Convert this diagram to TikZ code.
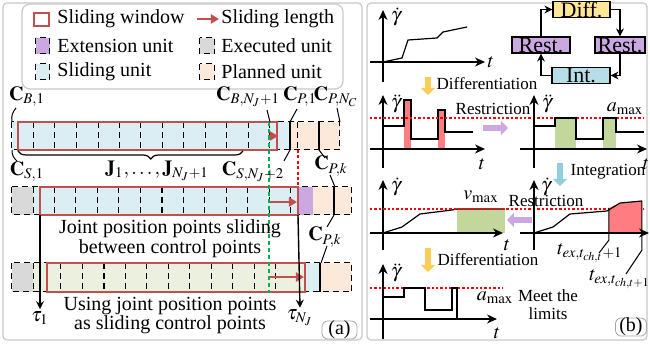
\documentclass[tikz,border=0pt]{standalone}
\usepackage{mathptmx}
\usepackage[no-math]{fontspec}
\setmainfont{Liberation Serif}
\usetikzlibrary{arrows.meta,decorations.pathreplacing}

\definecolor{winred}{RGB}{192,80,77}
\definecolor{extpurple}{RGB}{204,168,226}
\definecolor{execgray}{RGB}{217,217,217}
\definecolor{slideblue}{RGB}{218,238,243}
\definecolor{planpeach}{RGB}{253,233,217}
\definecolor{slidegreen}{RGB}{235,241,222}
\definecolor{okgreen}{RGB}{195,214,155}
\definecolor{overred}{RGB}{255,124,128}
\definecolor{diffyellow}{RGB}{255,230,153}
\definecolor{intblue}{RGB}{183,222,232}
\definecolor{arryellow}{RGB}{255,205,85}
\definecolor{arrblue}{RGB}{146,205,220}
\definecolor{markgreen}{RGB}{0,176,80}
\definecolor{framegray}{RGB}{200,200,200}

\begin{document}
\begin{tikzpicture}[x=0.5pt, y=-0.5pt, >={Stealth[length=4pt,width=4pt]},
    panel/.style={draw=framegray, line width=0.6pt, rounded corners=2pt},
    cellbar/.style={densely dashed, line width=0.5pt},
    window/.style={draw=winred, line width=1.3pt},
    slidearrow/.style={-{Triangle[length=4pt,width=4.5pt]}, winred, line width=1.3pt},
    axis/.style={-{Stealth[length=5pt,width=4.5pt]}, line width=0.6pt},
    trace/.style={line width=0.6pt},
    limit/.style={red, dash pattern=on 1.2pt off 1pt, line width=0.6pt},
    lbl/.style={font=\fontsize{10}{10}\selectfont, inner sep=1pt},
    note/.style={font=\fontsize{8.5}{9}\selectfont, inner sep=1pt},
    loopbox/.style={draw, line width=0.6pt, minimum height=8pt, inner sep=0pt, font=\fontsize{11}{11}\selectfont},
    bigarrow/.style={line width=3pt, -{Triangle[length=3.5pt,width=7pt]}},
    tag/.style={draw=gray!70, rounded corners=3pt, minimum width=17pt, minimum height=8pt, inner sep=0pt, font=\fontsize{10}{10}\selectfont},
    lead/.style={line width=0.5pt}]
  \useasboundingbox (0,0) rectangle (650,347);

  % Panel frames
  \draw[panel] (3,3) rectangle (362,340);
  \draw[panel] (367,3) rectangle (647,340);
  \draw[panel, rounded corners=4pt] (22,4) rectangle (343,89);

  % Legend
  \draw[window, fill=white] (34,13) rectangle (49,26);
  \node[lbl, anchor=west] (lgWin) at (55,19) {Sliding window};
  \draw[slidearrow] (197,19) -- (219,19);
  \node[lbl, anchor=west] (lgLen) at (219,19) {Sliding length};
  \draw[cellbar, fill=extpurple] (36,38) rectangle (50,54);
  \node[lbl, anchor=west] (lgExt) at (55,46) {Extension unit};
  \draw[cellbar, fill=execgray] (200,38) rectangle (215,54);
  \node[lbl, anchor=west] (lgExe) at (219,46) {Executed unit};
  \draw[cellbar, fill=slideblue] (36,64) rectangle (50,80);
  \node[lbl, anchor=west] (lgSld) at (55,72) {Sliding unit};
  \draw[cellbar, fill=planpeach] (200,64) rectangle (215,80);
  \node[lbl, anchor=west] (lgPln) at (219,72) {Planned unit};

  % Row 1: before sliding
  \fill[slideblue] (12,122) rectangle (290,150);
  \fill[planpeach] (290,122) rectangle (340,150);
  \draw[cellbar] (12,122) rectangle (340,150);
  \foreach \k in {0,...,11}
    \draw[cellbar] ({33.5+21.5*\k},122) -- ++(0,28);
  \draw[cellbar] (298,122) -- (298,150);
  \draw[line width=0.7pt] (290,122) -- (290,150) (319,122) -- (319,150);
  \draw[window] (18,122) rectangle (277,150);

  % Row 2: sliding between control points
  \fill[execgray] (12,187) rectangle (33,215);
  \fill[slideblue] (33,187) rectangle (298,215);
  \fill[extpurple] (298,187) rectangle (313,215);
  \fill[planpeach] (313,187) rectangle (352,215);
  \draw[cellbar] (12,187) rectangle (352,215);
  \foreach \k in {0,...,12}
    \draw[cellbar] ({33+21.5*\k},187) -- ++(0,28);
  \draw[line width=0.7pt] (334,187) -- (334,215);
  \draw[window] (40,187) rectangle (298,215);

  % Row 3: sliding control points
  \fill[execgray] (12,263) rectangle (33,292);
  \fill[slidegreen] (33,263) rectangle (305,292);
  \fill[slideblue] (305,263) rectangle (320,292);
  \fill[planpeach] (320,263) rectangle (352,292);
  \draw[cellbar] (12,263) rectangle (352,292);
  \draw[cellbar] (33,263) -- (33,292);
  \foreach \k in {0,...,10}
    \draw[cellbar] ({61+21.5*\k},263) -- ++(0,29);
  \draw[line width=0.7pt] (320,263) -- (320,292);
  \draw[window] (47,263) rectangle (305,292);

  % Sliding lengths
  \draw[slidearrow] (268,136) -- (278,136);
  \draw[slidearrow] (269,202) -- (297,202);
  \draw[slidearrow] (269,277) -- (304,277);

  % Markers
  \draw[markgreen, line width=1.3pt, dash pattern=on 2pt off 1.5pt] (269,122) -- (269,293);
  \draw[red, line width=1pt, dash pattern=on 1.5pt off 1.2pt] (298,150) -- (298,187);

  % Control point labels
  \node[lbl] (cB1) at (27,97) {$\mathbf{C}_{B,1}$};
  \node[lbl] (cBN) at (248,97) {$\mathbf{C}_{B,N_J+1}$};
  \node[lbl] (cP1) at (300,97) {$\mathbf{C}_{P,1}$};
  \node[lbl] (cPN) at (336,97) {$\mathbf{C}_{P,N_C}$};
  \node[lbl] (cS1) at (27,172) {$\mathbf{C}_{S,1}$};
  \node[lbl] (cSN) at (253,172) {$\mathbf{C}_{S,N_J+2}$};
  \node[lbl] (cPk1) at (331,166) {$\mathbf{C}_{P,k}$};
  \node[lbl] (cPk2) at (325,237) {$\mathbf{C}_{P,k}$};
  \node[lbl] (jlab) at (157,171) {$\mathbf{J}_1,\ldots,\mathbf{J}_{N_J+1}$};

  \draw[lead] (16,108) to[bend right=25] (12,122);
  \draw[lead] (12,150) to[bend right=25] (17,161);
  \draw[lead] (267,110) -- (270,122);
  \draw[lead] (297,109) -- (290,122);
  \draw[lead] (337,108) -- (340,122);
  \draw[lead] (290,150) -- (284,161);
  \draw[lead] (319,150) -- (325,158);
  \draw[lead] (330,175) -- (335,187);
  \draw[lead] (334,215) -- (327,227);
  \draw[lead] (327,246) -- (321,263);

  \draw[decorate, decoration={brace, mirror, amplitude=4pt, aspect=0.59}, line width=0.6pt]
    (18,151) -- (243,151);

  % Time stamps
  \node[lbl] (tau1) at (40,318) {$\tau_1$};
  \node[lbl] (tauN) at (300,318) {$\tau_{N_J}$};
  \draw[->, line width=0.7pt] (40,215) -- (tau1.north);
  \draw[->, line width=0.7pt] (298,215) -- (tauN.north);

  \node[lbl, align=center] (jtxt) at (170,239) {Joint position points sliding\\between control points};
  \node[lbl, align=center, font=\fontsize{10}{9.5}\selectfont] (utxt) at (170,316) {Using joint position points\\as sliding control points};
  \node[tag, minimum width=17.5pt] (tagA) at (339.5,330) {(a)};

  % Restriction loop
  \node[loopbox, fill=diffyellow, minimum width=28.5pt] (diff) at (581.5,9.5) {Diff.};
  \node[loopbox, fill=extpurple, minimum width=29pt] (restL) at (541,45) {Rest.};
  \node[loopbox, fill=extpurple, minimum width=25pt] (restR) at (620,45) {Rest.};
  \node[loopbox, fill=intblue, minimum width=29pt] (int) at (581,75.5) {Int.};
  \draw[->, line width=0.6pt] (restL.north) |- (diff.west);
  \draw[->, line width=0.6pt] (diff.east) -| (restR.north);
  \draw[->, line width=0.6pt] (restR.south) |- (int.east);
  \draw[->, line width=0.6pt] (int.west) -| (restL.south);

  % Plot: velocity profile
  \draw[axis] (370,62) -- (485,62) node[lbl, right] {$t$};
  \draw[axis] (383,82) -- (383,10);
  \node[lbl] (v0) at (396,17) {$\dot{\gamma}$};
  \draw[trace] (383,62) -- (402,58) -- (408,40) -- (437,38) -- (443,32) -- (467,27);

  \draw[bigarrow, arryellow] (428,77) -- (428,95);
  \node[note] (dif1) at (487,84) {Differentiation};

  % Plot: acceleration before restriction
  \fill[overred] (404,100) rectangle (411,149);
  \fill[overred] (438,110) rectangle (445,149);
  \draw[axis] (370,149) -- (485,149);
  \draw[axis] (383,168) -- (383,95);
  \node[lbl] (a0) at (396,104) {$\ddot{\gamma}$};
  \node[lbl] at (482,164) {$t$};
  \draw[trace] (383,126) -- (404,126) -- (404,100) -- (411,100) -- (411,139) -- (438,139)
    -- (438,110) -- (445,110) -- (445,132) -- (473,132);

  \draw[limit] (370,118) -- (643,118);
  \node[note] (res1) at (493,109) {Restriction};
  \draw[bigarrow, extpurple] (483,128) -- (508,128);

  % Plot: acceleration after restriction
  \fill[okgreen] (555,118) rectangle (576,149);
  \fill[okgreen] (603,118) rectangle (616,149);
  \draw[axis] (520,149) -- (647,149);
  \draw[axis] (534,168) -- (534,95);
  \node[lbl] (a1) at (547,104) {$\ddot{\gamma}$};
  \node[lbl] (amax1) at (625,109) {$a_{\max}$};
  \node[lbl] at (646,164) {$t$};
  \draw[trace] (534,126) -- (555,126) -- (555,118) -- (576,118) -- (576,139) -- (603,139)
    -- (603,118) -- (616,118) -- (616,132) -- (644,132);

  \draw[bigarrow, arrblue] (560,163) -- (560,186);
  \node[note] (int1) at (608,172) {Integration};

  % Plot: velocity after restriction
  \fill[okgreen] (457,209) rectangle (505,233);
  \draw[axis] (370,233) -- (503,233);
  \draw[axis] (383,250) -- (383,180);
  \node[lbl] (v1) at (396,187) {$\dot{\gamma}$};
  \node[lbl] (vmax) at (481,197) {$v_{\max}$};
  \node[lbl] at (507,245) {$t$};
  \draw[trace] (383,233) -- (402,227) -- (420,214) -- (452,210) -- (457,209) -- (505,209);

  \draw[limit] (370,209) -- (643,209);
  \node[note] (res2) at (546,201) {Restriction};
  \draw[bigarrow, extpurple] (532,220) -- (507,220);

  % Plot: velocity after integration
  \fill[overred] (609,233) -- (609,208) -- (620,203) -- (642,201) -- (642,233) -- cycle;
  \draw[axis] (520,233) -- (649,233);
  \draw[axis] (534,250) -- (534,180);
  \node[lbl] (v2) at (546,187) {$\dot{\gamma}$};
  \draw[trace] (534,233) -- (553,227) -- (570,214) -- (607,211) -- (620,203) -- (642,201);
  \node[lbl] (tex1) at (590,253) {$t_{ex,t_{ch,t}+1}$};
  \node[lbl] (tex2) at (620,279) {$t_{ex,t_{ch,t+1}}$};
  \draw[lead] (609,208) -- (609,240) -- (599,253);
  \draw[lead] (642,201) -- (642,250) -- (626,274);

  \draw[bigarrow, arryellow] (428,248) -- (428,272);
  \node[note] (dif2) at (488,260) {Differentiation};

  % Plot: acceleration within limits
  \draw[limit] (370,288) -- (503,288);
  \draw[axis] (370,319) -- (497,319);
  \draw[axis] (383,339) -- (383,264);
  \node[lbl] (a2) at (396,273) {$\ddot{\gamma}$};
  \node[lbl] at (497,333) {$t$};
  \draw[trace] (383,297) -- (404,297) -- (404,288) -- (425,288) -- (425,310) -- (452,310)
    -- (452,288) -- (457,288) -- (457,319);
  \node[lbl] (amax2) at (495,298) {$a_{\max}$};
  \node[note, align=center] (meet) at (548,305) {Meet the\\limits};
  \node[tag, minimum width=15.5pt] (tagB) at (631,327) {(b)};
\end{tikzpicture}
\end{document}
